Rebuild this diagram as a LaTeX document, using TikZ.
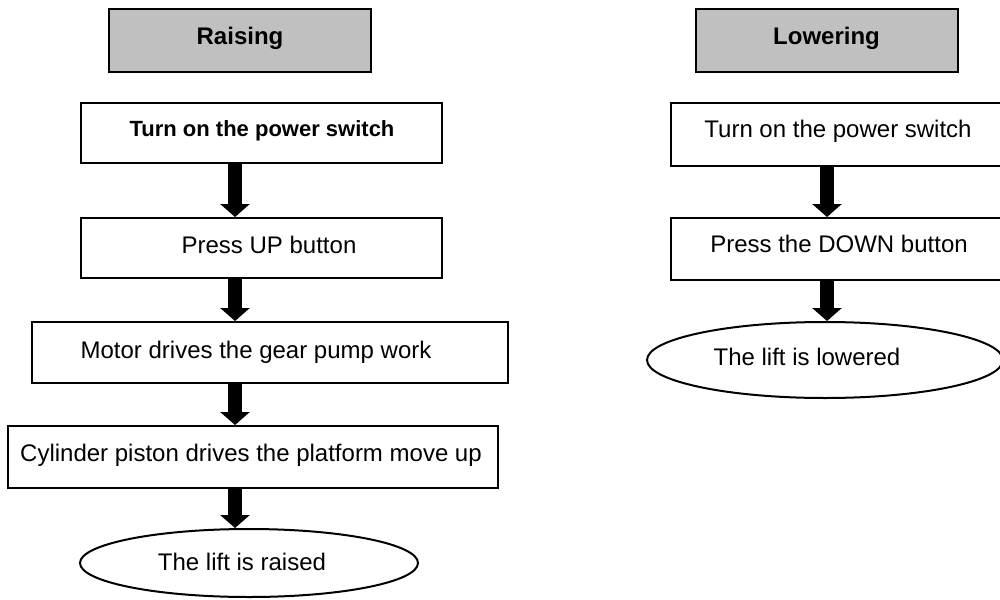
\documentclass[tikz,border=0pt]{standalone}
\usepackage{fontspec}
\setmainfont{Liberation Sans}
\usetikzlibrary{shapes.geometric,arrows.meta}
\definecolor{headgray}{RGB}{192,192,192}

\begin{document}
\begin{tikzpicture}[x=0.5pt,y=-0.5pt,%1 unit = 1 pixel of the sheet
  headbox/.style={draw, line width=1pt, fill=headgray, minimum width=131pt, minimum height=31.5pt, inner sep=0pt},
  stepbox/.style={draw, line width=1pt, inner sep=0pt},
  endoval/.style={draw, ellipse, line width=1pt, inner sep=0pt},
  steptext/.style={font=\fontsize{12}{14}\selectfont},
  flow/.style={line width=7pt, -{Triangle[length=6.5pt,width=14.5pt]}}]
\useasboundingbox (0,0) rectangle (1000,599);

% raising
\node [headbox] (uphead) at (240,40.5) {};
\node [steptext, font=\fontsize{12}{14}\selectfont\bfseries] (upheadt) at (240,38) {Raising};
\node [stepbox, minimum width=180.5pt, minimum height=30pt] (up1) at (261.5,133) {};
\node [steptext, font=\fontsize{11}{13}\selectfont\bfseries] (up1t) at (262,131) {Turn on the power switch};
\node [stepbox, minimum width=180.5pt, minimum height=30pt] (up2) at (261.5,248) {};
\node [steptext] (up2t) at (269,245) {Press UP button};
\node [stepbox, minimum width=238pt, minimum height=30.5pt] (up3) at (270,352.5) {};
\node [steptext] (up3t) at (256,352) {Motor drives the gear pump work};
\node [stepbox, minimum width=245pt, minimum height=31pt] (up4) at (253,457) {};
\node [steptext] (up4t) at (251,455) {Cylinder piston drives the platform move up};
\node [endoval, minimum width=169pt, minimum height=34pt] (up5) at (249,563) {};
\node [steptext] (up5t) at (242,562) {The lift is raised};

\coordinate (upx) at (235,0);
\draw [flow] (up1.south -| upx) -- (up2.north -| upx);
\draw [flow] (up2.south -| upx) -- (up3.north -| upx);
\draw [flow] (up3.south -| upx) -- (up4.north -| upx);
\draw [flow] (up4.south -| upx) -- (up5.north -| upx);

% lowering
\node [headbox] (downhead) at (826.5,40.5) {};
\node [steptext, font=\fontsize{12}{14}\selectfont\bfseries] (downheadt) at (826.5,38) {Lowering};
\node [stepbox, minimum width=167pt, minimum height=31.5pt] (down1) at (838,134.5) {};
\node [steptext] (down1t) at (838,131) {Turn on the power switch};
\node [stepbox, minimum width=167pt, minimum height=31pt] (down2) at (838,249) {};
\node [steptext] (down2t) at (839,244) {Press the DOWN button};
\node [endoval, minimum width=178pt, minimum height=38pt] (down3) at (825,360) {};
\node [steptext] (down3t) at (807,357) {The lift is lowered};

\coordinate (downx) at (827,0);
\draw [flow] (down1.south -| downx) -- (down2.north -| downx);
\draw [flow] (down2.south -| downx) -- (down3.north -| downx);
\end{tikzpicture}
\end{document}
